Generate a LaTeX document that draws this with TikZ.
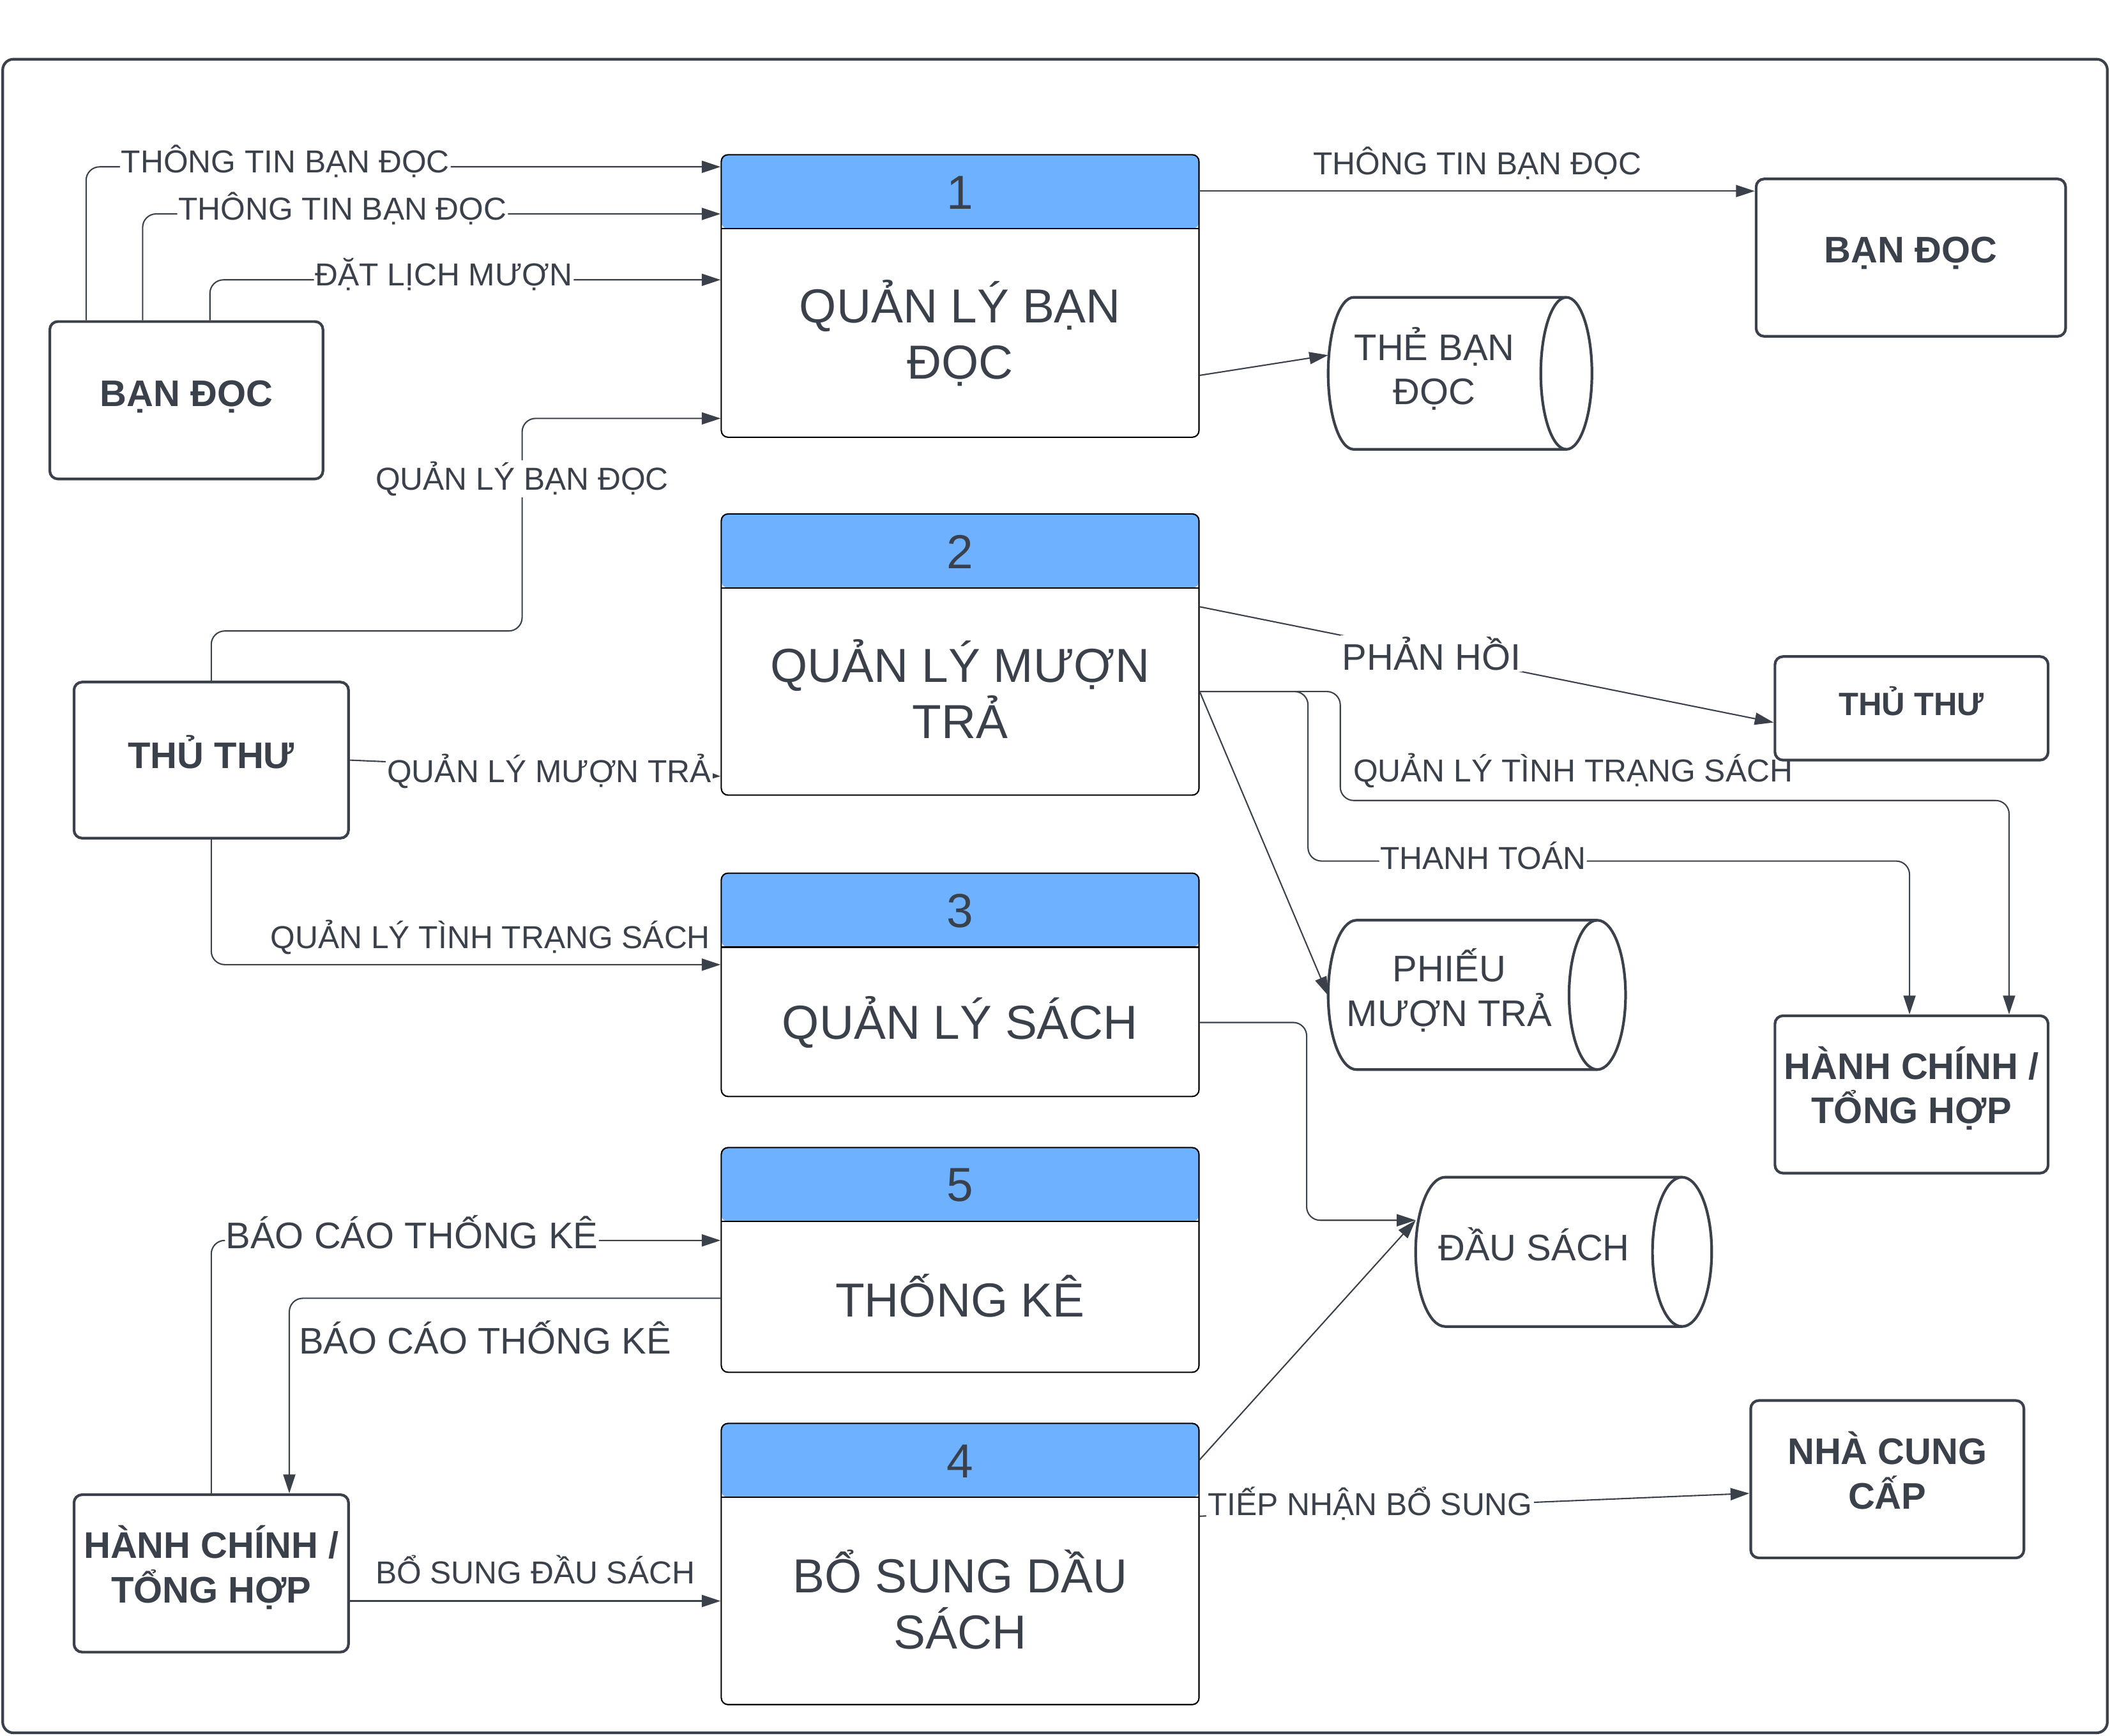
\documentclass[tikz,border=0pt]{standalone}
\usepackage{fontspec}
\setmainfont{Liberation Sans}
\usetikzlibrary{arrows.meta,calc}
\definecolor{ink}{RGB}{58,65,74}
\definecolor{hdr}{RGB}{109,177,255}
\newcommand\drawcyl[5]{%
 \pgfmathsetmacro\cyA{#1+#5}%
 \pgfmathsetmacro\cyB{#2-#5}%
 \pgfmathsetmacro\cyM{(#3+#4)/2}%
 \pgfmathsetmacro\cyK{0.5523*#5}%
 \pgfmathsetmacro\cyH{0.5523*(#4-#3)/2}%
 \pgfmathsetmacro\cyI{\cyB-#5}%
 \draw[cyl] (\cyA,#3) -- (\cyB,#3) .. controls (\cyB+\cyK,#3) and (#2,\cyM-\cyH) .. (#2,\cyM) .. controls (#2,\cyM+\cyH) and (\cyB+\cyK,#4) .. (\cyB,#4) -- (\cyA,#4) .. controls (\cyA-\cyK,#4) and (#1,\cyM+\cyH) .. (#1,\cyM) .. controls (#1,\cyM-\cyH) and (\cyA-\cyK,#3) .. (\cyA,#3) -- cycle;
 \draw[cyl,fill=none] (\cyB,#3) .. controls (\cyB-\cyK,#3) and (\cyI,\cyM-\cyH) .. (\cyI,\cyM) .. controls (\cyI,\cyM+\cyH) and (\cyB-\cyK,#4) .. (\cyB,#4);
}
\tikzset{
 flow/.style={draw=ink, line width=1pt, -{Triangle[length=14pt,width=9pt]}},
 lbl/.style={font=\fontsize{23.6}{28}\selectfont, text=ink, inner sep=1pt},
 lblw/.style={lbl, fill=white, yshift=4pt},
 lblv/.style={lbl, fill=white},
 lblbig/.style={font=\fontsize{27.5}{33}\selectfont},
 ent/.style={draw=ink, line width=2pt, rounded corners=6pt, fill=white, inner sep=0pt},
 enttxt/.style={align=center, font=\fontsize{27.5}{33}\selectfont\bfseries, text=ink, inner sep=0pt},
 proc/.style={draw=black, line width=1pt, rounded corners=5pt, fill=white,
   minimum width=355pt, inner sep=0pt,
   path picture={\fill[hdr] (path picture bounding box.north west) rectangle ([yshift=-55pt]path picture bounding box.north east);
     \draw[black,line width=1pt] ([yshift=-55pt]path picture bounding box.north west) -- ([yshift=-55pt]path picture bounding box.north east);}},
 cyl/.style={draw=ink, line width=2pt, fill=white},
 big/.style={font=\fontsize{35.5}{42}\selectfont, text=ink, align=center},
 cylt/.style={font=\fontsize{27.5}{33}\selectfont, text=ink, align=center},
}
\begin{document}
\begin{tikzpicture}[x=1pt,y=-1pt]
\useasboundingbox (0,0) rectangle (1568,1290.3);
\draw[ink,line width=2pt,rounded corners=8pt] (2,44) rectangle (1566,1288);

% processes
\node[proc,minimum height=210pt] (p1) at (713.5,220) {};
\node[big] (n1) at (713.5,143) {1};
\node[big] (t1) at (713.5,247.5) {QUẢN LÝ BẠN\\ĐỌC};
\node[proc,minimum height=209pt] (p2) at (713.5,486.5) {};
\node[big] (n2) at (713.5,410) {2};
\node[big] (t2) at (713.5,512) {QUẢN LÝ MƯỢN\\TRẢ};
\node[proc,minimum height=166pt] (p3) at (713.5,732) {};
\node[big] (n3) at (713.5,677) {3};
\node[big] (t3) at (713.5,760) {QUẢN LÝ SÁCH};
\node[proc,minimum height=167pt] (p5) at (713.5,936.5) {};
\node[big] (n5) at (713.5,881) {5};
\node[big] (t5) at (713.5,963) {THỐNG KÊ};
\node[proc,minimum height=209pt] (p4) at (713.5,1162.5) {};
\node[big] (n4) at (713.5,1086) {4};
\node[big] (t4) at (713.5,1189) {BỔ SUNG DẦU\\SÁCH};

% external entities
\node[ent,minimum width=203pt,minimum height=117pt] (bd1) at (138.5,297.5) {};
\node[enttxt] (bd1t) at (138.5,295) {BẠN ĐỌC};
\node[ent,minimum width=230pt,minimum height=117pt] (bd2) at (1420,191.5) {};
\node[enttxt] (bd2t) at (1420,188) {BẠN ĐỌC};
\node[ent,minimum width=204pt,minimum height=116pt] (tt1) at (157,565) {};
\node[enttxt] (tt1t) at (157,559) {THỦ THƯ};
\node[ent,minimum width=203pt,minimum height=77pt] (tt2) at (1420.5,526.5) {};
\node[enttxt,font=\fontsize{24}{29}\selectfont\bfseries] (tt2t) at (1420.5,521) {THỦ THƯ};
\node[ent,minimum width=203pt,minimum height=117pt] (hc2) at (1420.5,813.5) {};
\node[enttxt] (hc2t) at (1420.5,809) {HÀNH CHÍNH /\\TỔNG HỢP};
\node[ent,minimum width=204pt,minimum height=117pt] (hc1) at (157,1169.5) {};
\node[enttxt] (hc1t) at (157,1165) {HÀNH CHÍNH /\\TỔNG HỢP};
\node[ent,minimum width=203pt,minimum height=117pt] (ncc) at (1402.5,1099.5) {};
\node[enttxt] (ncct) at (1402.5,1093) {NHÀ CUNG\\CẤP};

% data stores
\drawcyl{987}{1183}{221}{334}{19}
\node[cylt] (c1) at (1066,274) {THẺ BẠN\\ĐỌC};
\drawcyl{987}{1208}{684}{795}{21}
\node[cylt] (c2) at (1077,736) {PHIẾU\\MƯỢN TRẢ};
\drawcyl{1052}{1272}{875}{986}{22}
\node[cylt] (c3) at (1140,925) {ĐẦU SÁCH};
\coordinate (c1in) at (987,264);
\coordinate (c2in) at (987,740);
\coordinate (c3in) at (1052,907);

% flows
\draw[flow,rounded corners=10pt] (bd1.north -| 64,0) |- node[lblw,pos=0.657]{THÔNG TIN BẠN ĐỌC} (p1.west |- 0,124);
\draw[flow,rounded corners=10pt] (bd1.north -| 106,0) |- node[lblw,pos=0.673]{THÔNG TIN BẠN ĐỌC} (p1.west |- 0,159);
\draw[flow,rounded corners=10pt] (bd1.north -| 156,0) |- node[lblw,pos=0.729]{ĐẶT LỊCH MƯỢN} (p1.west |- 0,208);
\draw[flow] (p1.east |- 0,142) -- node[lbl,above=7pt]{THÔNG TIN BẠN ĐỌC} (bd2.west |- 0,142);
\draw[flow] (p1.east |- 0,279) -- (c1in);

\coordinate (k1) at (388,469);
\draw[flow,rounded corners=10pt] (tt1.north) |- (k1) |- node[lblv,pos=0.358]{QUẢN LÝ BẠN ĐỌC} (p1.west |- 0,311);
\draw[flow] (tt1.east |- 0,565) -- node[lblv,pos=0.538,yshift=-2pt]{QUẢN LÝ MƯỢN TRẢ} (p2.west |- 0,577);
\draw[flow,rounded corners=10pt] (tt1.south) |- node[lbl,pos=0.774,above=6pt]{QUẢN LÝ TÌNH TRẠNG SÁCH} (p3.west |- 0,717);

\draw[flow] (p2.east |- 0,451) -- node[lblv,lblbig,pos=0.404]{PHẢN HỒI} (tt2.west |- 0,537);
\draw[flow,rounded corners=10pt] (p2.east |- 0,514) -- (996,514) -- (996,595) -- node[lbl,pos=0.348,above=8pt]{QUẢN LÝ TÌNH TRẠNG SÁCH} (1493,595) -- (hc2.north -| 1493,0);
\draw[flow,rounded corners=10pt] (p2.east |- 0,514) -- (972,514) -- (972,640) -- node[lblw,pos=0.291]{THANH TOÁN} (1419,640) -- (hc2.north -| 1419,0);
\draw[flow] (p2.east |- 0,514) -- (c2in);

\draw[flow,rounded corners=10pt] (p3.east |- 0,760) -- (971,760) -- (971,907) -- (c3in);
\draw[flow] (p4.east |- 0,1085) -- (c3in);
\draw[flow] (p4.east |- 0,1127) -- node[lblw,pos=0.31]{TIẾP NHẬN BỔ SUNG} (ncc.west |- 0,1110);

\draw[flow,rounded corners=10pt] (hc1.north) |- node[lblw,lblbig,pos=0.697,yshift=2pt]{BÁO CÁO THỐNG KÊ} (p5.west |- 0,922);
\draw[flow,rounded corners=10pt] (p5.west |- 0,965) -| node[lbl,lblbig,pos=0.273,below=15pt]{BÁO CÁO THỐNG KÊ} (hc1.north -| 215,0);
\draw[flow] (hc1.east |- 0,1190) -- node[lbl,above=11pt]{BỔ SUNG ĐẦU SÁCH} (p4.west |- 0,1190);
\end{tikzpicture}
\end{document}
